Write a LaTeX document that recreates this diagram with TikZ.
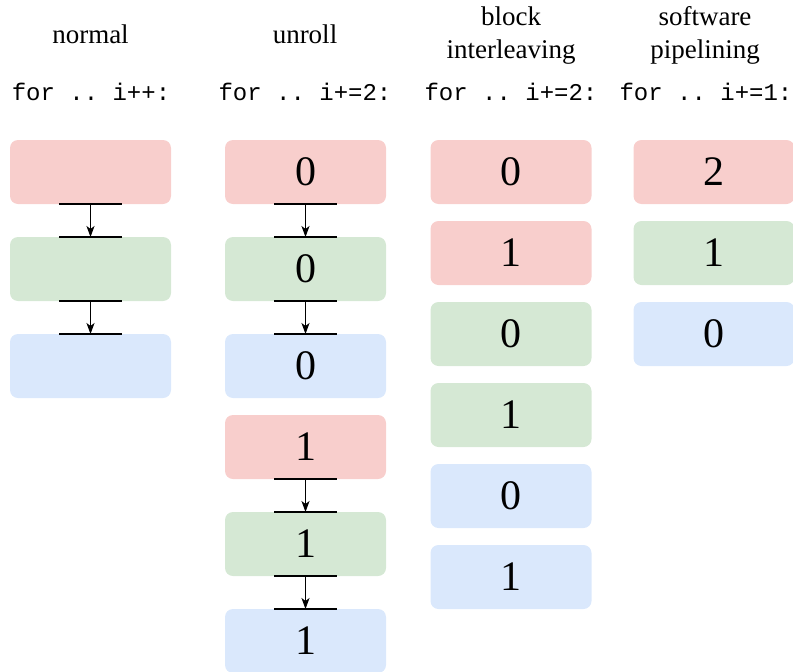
\documentclass[tikz,border=0pt]{standalone}
\usepackage{fontspec}
\setmainfont{Liberation Serif}
\setmonofont{Liberation Mono}
\usetikzlibrary{arrows.meta}
\definecolor{cred}{HTML}{F8CECC}
\definecolor{cgreen}{HTML}{D5E8D4}
\definecolor{cblue}{HTML}{DAE8FC}
\tikzset{
  blk/.style={rounded corners=8pt, minimum width=161pt, minimum height=64pt, inner sep=0pt, outer sep=0pt, font=\fontsize{42}{46}\selectfont},
  rb/.style={blk, fill=cred},
  gb/.style={blk, fill=cgreen},
  bb/.style={blk, fill=cblue},
  hdr/.style={font=\fontsize{27}{33}\selectfont, align=center, anchor=base, inner sep=0pt},
  code/.style={font=\ttfamily\fontsize{24}{28}\selectfont, anchor=base, inner sep=0pt},
  flow/.style={line width=1.4pt, -{Stealth[length=11pt,width=8pt,inset=3pt]}},
  barline/.style={line width=1.3pt}
}
\newcommand{\flowbars}[2]{%
  \draw[barline] ([xshift=-31.5pt]#1.south) -- ([xshift=31.5pt]#1.south);
  \draw[barline] ([xshift=-31.5pt]#2.north) -- ([xshift=31.5pt]#2.north);
  \draw[flow] (#1.south) -- (#2.north);}
\begin{document}
\begin{tikzpicture}[x=1pt,y=-1pt]
\useasboundingbox (0,0) rectangle (793,672);
% headers
\node[hdr] (h1) at (90.5,43) {normal};
\node[hdr] (h2) at (305,43) {unroll};
\node[hdr] (h3a) at (511,25) {block};
\node[hdr] (h3b) at (511,58) {interleaving};
\node[hdr] (h4a) at (705,25) {software};
\node[hdr] (h4b) at (705,58) {pipelining};
\node[code] (c1) at (91,100) {for .. i++:};
\node[code] (c2) at (305,100) {for .. i+=2:};
\node[code] (c3) at (511,100) {for .. i+=2:};
\node[code] (c4) at (706,100) {for .. i+=1:};
% column 1
\node[rb] (n1) at (90.5,172) {};
\node[gb] (n2) at (90.5,269) {};
\node[bb] (n3) at (90.5,366) {};
\flowbars{n1}{n2}
\flowbars{n2}{n3}
% column 2
\node[rb] (u1) at (305.5,172) {0};
\node[gb] (u2) at (305.5,269) {0};
\node[bb] (u3) at (305.5,366) {0};
\node[rb] (u4) at (305.5,447) {1};
\node[gb] (u5) at (305.5,544) {1};
\node[bb] (u6) at (305.5,641) {1};
\flowbars{u1}{u2}
\flowbars{u2}{u3}
\flowbars{u4}{u5}
\flowbars{u5}{u6}
% column 3
\node[rb] (b1) at (511,172) {0};
\node[rb] (b2) at (511,253) {1};
\node[gb] (b3) at (511,334) {0};
\node[gb] (b4) at (511,415) {1};
\node[bb] (b5) at (511,496) {0};
\node[bb] (b6) at (511,577) {1};
% column 4
\node[rb] (p1) at (714,172) {2};
\node[gb] (p2) at (714,253) {1};
\node[bb] (p3) at (714,334) {0};
\end{tikzpicture}
\end{document}
